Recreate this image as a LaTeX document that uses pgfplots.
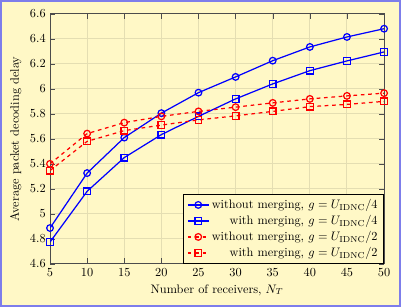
\documentclass[border=0pt]{standalone}
\usepackage{pgfplots}
\pgfplotsset{compat=1.18}
\usetikzlibrary{backgrounds}
\definecolor{bgyel}{RGB}{255,248,198}
\definecolor{gridc}{RGB}{228,222,178}
\definecolor{frameblue}{RGB}{125,125,235}
\begin{document}
\begin{tikzpicture}
\begin{axis}[
  scale only axis,
  width=271.5pt, height=203pt,
  xmin=5, xmax=50, ymin=4.6, ymax=6.6,
  xtick={5,10,...,50},
  ytick={4.6,4.8,...,6.61},
  yticklabel style={/pgf/number format/fixed},
  grid=major,
  major grid style={gridc, line width=0.8pt},
  axis background/.style={fill=bgyel},
  axis line style={black!70, line width=0.8pt},
  tick style={black!70},
  xlabel={Number of receivers, $N_T$},
  ylabel={Average packet decoding delay},
  legend style={at={(1,0)}, anchor=south east, fill=bgyel, draw=black, line width=0.6pt, font=\normalsize},
  legend cell align=right,
  every axis plot/.append style={line width=1pt, mark size=2.7pt, mark options={solid, fill=none}},
]
\addplot[blue, mark=o] coordinates {(5,4.886) (10,5.326) (15,5.61) (20,5.806) (25,5.97) (30,6.096) (35,6.226) (40,6.336) (45,6.416) (50,6.482)};
\addlegendentry{without merging, $g=U_{\mathrm{IDNC}}/4$}
\addplot[blue, mark=square] coordinates {(5,4.774) (10,5.18) (15,5.45) (20,5.634) (25,5.78) (30,5.92) (35,6.04) (40,6.146) (45,6.224) (50,6.296)};
\addlegendentry{with merging, $g=U_{\mathrm{IDNC}}/4$}
\addplot[red, dashed, mark=o] coordinates {(5,5.40) (10,5.642) (15,5.73) (20,5.78) (25,5.82) (30,5.854) (35,5.888) (40,5.92) (45,5.944) (50,5.966)};
\addlegendentry{without merging, $g=U_{\mathrm{IDNC}}/2$}
\addplot[red, dashed, mark=square] coordinates {(5,5.346) (10,5.58) (15,5.666) (20,5.71) (25,5.752) (30,5.784) (35,5.82) (40,5.858) (45,5.876) (50,5.90)};
\addlegendentry{with merging, $g=U_{\mathrm{IDNC}}/2$}
\end{axis}
\begin{scope}[on background layer]
\fill[bgyel, draw=frameblue, line width=1.5pt]
  ([shift={(-39.9pt,-34.2pt)}]current axis.south west) rectangle ([shift={(13pt,10.6pt)}]current axis.north east);
\end{scope}
\end{tikzpicture}
\end{document}
